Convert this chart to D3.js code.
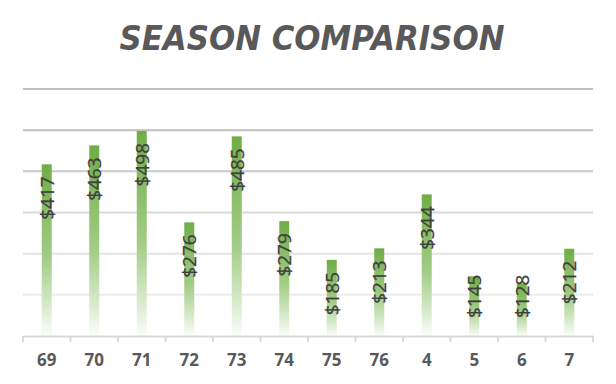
<!DOCTYPE html>
<html>
<head>
<meta charset="utf-8">
<script src="https://cdn.jsdelivr.net/npm/d3@7"></script>
<style>
  body { margin: 0; background: #fff; }
  svg { display: block; }
</style>
</head>
<body>
<div id="chart"></div>
<script>
// season labels and earnings
const seasons = ["69", "70", "71", "72", "73", "74", "75", "76", "4", "5", "6", "7"];
const earnings = [417, 463, 498, 276, 485, 279, 185, 213, 344, 145, 128, 212];
const gridValues = [100, 200, 300, 400, 500, 600];
const gridColors = ["#ececec", "#e4e4e4", "#d9d9d9", "#c9c9c9", "#bfbfbf", "#bfbfbf"];

const width = 616, height = 384;
const margin = { top: 89, right: 23, bottom: 48, left: 23 };

const svg = d3.select("#chart").append("svg")
    .attr("width", width)
    .attr("height", height)
    .attr("viewBox", `0 0 ${width} ${height}`);

// bar fill: green at the top, fading to white at the base
const grad = svg.append("defs").append("linearGradient")
    .attr("id", "barFill")
    .attr("x1", 0).attr("y1", 0).attr("x2", 0).attr("y2", 1);
grad.append("stop").attr("offset", "0%").attr("stop-color", "#70ad47");
grad.append("stop").attr("offset", "55%").attr("stop-color", "#a2cd86");
grad.append("stop").attr("offset", "85%").attr("stop-color", "#dcedd2");
grad.append("stop").attr("offset", "100%").attr("stop-color", "#fbfdf9");

const x = d3.scaleBand()
    .domain(seasons)
    .range([margin.left, width - margin.right]);

const y = d3.scaleLinear()
    .domain([0, 600])
    .range([height - margin.bottom, margin.top]);

// title
svg.append("text")
    .attr("x", 312)
    .attr("y", 50)
    .attr("text-anchor", "middle")
    .attr("font-family", "DejaVu Sans")
    .attr("font-weight", "bold")
    .attr("font-style", "italic")
    .attr("font-size", 34)
    .attr("fill", "#595959")
    .attr("textLength", 385)
    .attr("lengthAdjust", "spacingAndGlyphs")
    .text("SEASON COMPARISON");

// gridlines
svg.append("g")
    .selectAll("line")
    .data(gridValues)
    .join("line")
    .attr("x1", margin.left)
    .attr("x2", width - margin.right)
    .attr("y1", d => y(d))
    .attr("y2", d => y(d))
    .attr("stroke", (d, i) => gridColors[i])
    .attr("stroke-width", 2);

// bars
const barW = 10;
svg.append("g")
    .selectAll("rect")
    .data(earnings)
    .join("rect")
    .attr("x", (d, i) => x(seasons[i]) + x.bandwidth() / 2 - barW / 2)
    .attr("y", d => y(d))
    .attr("width", barW)
    .attr("height", d => y(0) - y(d))
    .attr("fill", "url(#barFill)");

// x axis
const xAxis = svg.append("g")
    .attr("transform", `translate(0,${y(0)})`)
    .call(d3.axisBottom(x).tickSize(0).tickPadding(18));
xAxis.select(".domain").attr("stroke", "#d9d9d9").attr("stroke-width", 2);
xAxis.selectAll("text")
    .attr("font-family", "Open Sans")
    .attr("font-weight", "bold")
    .attr("font-size", 17)
    .attr("fill", "#595959");

// category separators on the axis
const bounds = seasons.map(s => x(s)).concat([width - margin.right]);
svg.append("g")
    .selectAll("line")
    .data(bounds)
    .join("line")
    .attr("x1", d => d)
    .attr("x2", d => d)
    .attr("y1", y(0))
    .attr("y2", y(0) + 6)
    .attr("stroke", "#d9d9d9")
    .attr("stroke-width", 2);

// value labels, rotated, just inside the top of each bar
const labelFloor = y(0) - 18;
const labels = svg.append("g")
    .selectAll("text")
    .data(earnings)
    .join("text")
    .attr("text-anchor", "end")
    .attr("dy", "0.36em")
    .attr("font-family", "Open Sans")
    .attr("font-size", 19)
    .attr("fill", "#404040")
    .attr("stroke", "#404040")
    .attr("stroke-width", 0.3)
    .text(d => "$" + d);

labels.each(function(d, i) {
    const len = this.getComputedTextLength();
    let endY = y(d) + 12;
    if (endY + len > labelFloor) endY = labelFloor - len;
    const cx = x(seasons[i]) + x.bandwidth() / 2;
    d3.select(this).attr("transform", `translate(${cx},${endY}) rotate(-90)`);
});
</script>
</body>
</html>
